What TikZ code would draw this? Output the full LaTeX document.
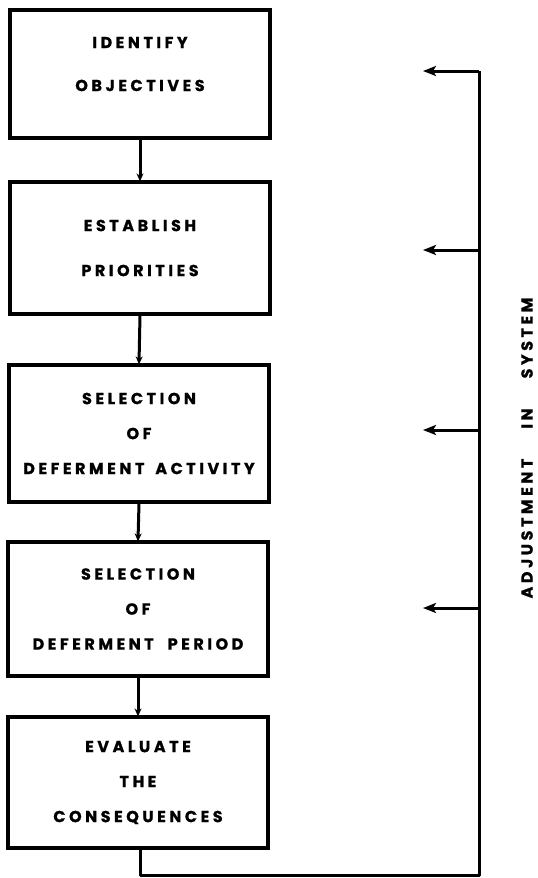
\documentclass[tikz,border=0pt]{standalone}
\usepackage{fontspec}
\newfontfamily\lab[LetterSpace=22,FakeBold=0.9]{Poppins}
\usetikzlibrary{arrows.meta}
\tikzset{
  box/.style={draw=black, line width=3.2pt, minimum width=260pt, inner sep=0pt, align=center,
              font=\lab\bfseries\fontsize{16}{35}\selectfont},
  flow/.style={line width=3pt, -{Stealth[length=8pt,width=7pt]}, shorten >=-1pt},
  loop/.style={line width=3pt, line join=round},
  fb/.style={line width=3pt, -{Stealth[length=13pt,width=10pt,inset=3pt]}},
  side/.style={font=\lab\bfseries\fontsize{16}{15}\selectfont, rotate=90}
}
\begin{document}
\begin{tikzpicture}[x=1pt,y=-1pt]
\useasboundingbox (0,0) rectangle (538,878);
\node[box, minimum height=128pt] (b1) at (140,74) {IDENTIFY\\[8pt]OBJECTIVES\rule[-20pt]{0pt}{20pt}};
\node[box, minimum height=132pt] (b2) at (140,248) {ESTABLISH\\[10pt]PRIORITIES};
\node[box, minimum height=137pt] (b3) at (139,433.5) {SELECTION\\OF\\DEFERMENT\hspace{4pt} ACTIVITY};
\node[box, minimum height=134pt] (b4) at (138,609) {SELECTION\\OF\\DEFERMENT\hspace{14pt}PERIOD};
\node[box, minimum height=131pt] (b5) at (138,782.5) {EVALUATE\\THE\\CONSEQUENCES};
\draw[flow] (b1.south) -- (b2.north);
\draw[flow] (b2.south) -- (b3.north);
\draw[flow] (b3.south) -- (b4.north);
\draw[flow] (b4.south) -- (b5.north);
\coordinate (c1) at (140,875);
\coordinate (c2) at (479,875);
\coordinate (t1) at (479,71);
\coordinate (t2) at (479,250);
\coordinate (t3) at (479,430);
\coordinate (t4) at (479,608);
\coordinate (a1) at (423,71);
\coordinate (a2) at (423,250);
\coordinate (a3) at (423,430);
\coordinate (a4) at (423,608);
\draw[loop] (b5.south -| c1) -- (c1) -- (c2) -- (t1);
\draw[fb] (t1) -- (a1);
\draw[fb] (t2) -- (a2);
\draw[fb] (t3) -- (a3);
\draw[fb] (t4) -- (a4);
\node[side] (lbl) at (527,448) {ADJUSTMENT\hspace{30pt}IN\hspace{30pt}SYSTEM};
\end{tikzpicture}
\end{document}
